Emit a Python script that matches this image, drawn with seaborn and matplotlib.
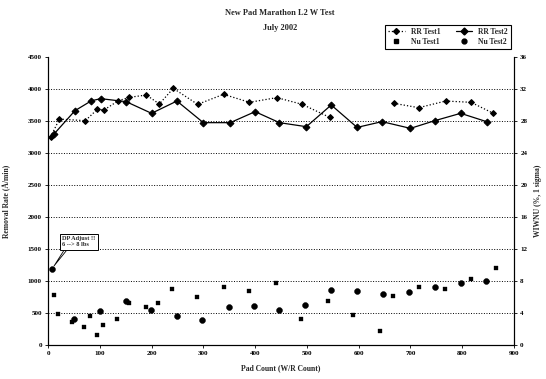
import numpy as np
import pandas as pd
import matplotlib
matplotlib.use("Agg")
import matplotlib.pyplot as plt
from matplotlib.lines import Line2D
import seaborn as sns

# data
rr1_count = [5, 22, 72, 95, 108, 136, 157, 190, 215, 242, 289, 339, 389, 442, 491, 544]
rr1_rate = [3250, 3530, 3505, 3680, 3672, 3817, 3870, 3906, 3766, 4010, 3760, 3917, 3792, 3865, 3760, 3557]
rr1b_count = [668, 716, 768, 817, 860]
rr1b_rate = [3776, 3708, 3812, 3792, 3620]

rr2_count = [12, 52, 84, 102, 151, 200, 249, 300, 352, 400, 447, 499, 547, 597, 645, 700, 747, 797, 847]
rr2_rate = [3300, 3661, 3817, 3849, 3802, 3620, 3812, 3474, 3474, 3646, 3474, 3411, 3750, 3400, 3490, 3385, 3505, 3620, 3490]

nu1_count = [12, 20, 46, 70, 82, 94, 107, 133, 157, 190, 213, 240, 288, 339, 388, 441, 489, 541, 589, 641, 667, 716, 766, 816, 866]
nu1_val = [6.2, 3.9, 2.9, 2.2, 3.6, 1.25, 2.5, 3.2, 5.2, 4.8, 5.2, 7.0, 5.96, 7.3, 6.7, 7.8, 3.3, 5.5, 3.7, 1.8, 6.1, 7.2, 7.0, 8.25, 9.6]

nu2_count = [7, 50, 100, 150, 199, 249, 298, 349, 397, 447, 497, 547, 597, 647, 697, 747, 797, 846]
nu2_val = [9.46, 3.25, 4.25, 5.5, 4.4, 3.6, 3.1, 4.8, 4.9, 4.4, 5.0, 6.9, 6.8, 6.4, 6.6, 7.2, 7.7, 8.0]

x_ticks = list(range(0, 901, 100))
rr_ticks = list(range(0, 4501, 500))
nu_ticks = list(range(0, 37, 4))

sns.set_style("white")
plt.rcParams['font.family'] = ['Liberation Serif', 'DejaVu Serif']
plt.rcParams['font.weight'] = 'bold'

fig, ax = plt.subplots(figsize=(5.46, 3.79), dpi=100)
fig.subplots_adjust(left=48/546, right=514/546, top=1-57/379, bottom=1-345/379)
ax2 = ax.twinx()

sns.lineplot(x=rr1_count, y=rr1_rate, ax=ax, color='black', linestyle=':', linewidth=0.9,
             marker='D', markersize=3, markeredgecolor='black', legend=False)
sns.lineplot(x=rr1b_count, y=rr1b_rate, ax=ax, color='black', linestyle=':', linewidth=0.9,
             marker='D', markersize=3, markeredgecolor='black', legend=False)
sns.lineplot(x=rr2_count, y=rr2_rate, ax=ax, color='black', linestyle='-', linewidth=0.9,
             marker='D', markersize=3.5, markeredgecolor='black', legend=False)

sns.scatterplot(x=nu1_count, y=nu1_val, ax=ax2, color='black', marker='s', s=9,
                edgecolor='black', legend=False)
sns.scatterplot(x=nu2_count, y=nu2_val, ax=ax2, color='black', marker='o', s=18,
                edgecolor='black', legend=False)

ax.set_xlim(0, 900)
ax.set_ylim(0, 4500)
ax2.set_ylim(0, 36)
ax.set_xticks(x_ticks)
ax.set_yticks(rr_ticks)
ax2.set_yticks(nu_ticks)

ax.yaxis.grid(True, linestyle=':', color='black', linewidth=0.7)
ax.get_ygridlines()[-1].set_visible(False)
ax.get_ygridlines()[0].set_visible(False)

for a in (ax, ax2):
    a.spines['top'].set_visible(False)
    for s in ('left', 'right', 'bottom'):
        a.spines[s].set_color('black')
        a.spines[s].set_linewidth(0.8)
    a.tick_params(labelsize=5, length=2.5, width=0.6, colors='black', pad=2)
ax.tick_params(axis='x', direction='out', bottom=True)
ax.tick_params(axis='y', direction='out', left=True)
ax2.tick_params(axis='y', direction='out', right=True)

ax.set_xlabel('Pad Count (W/R Count)', fontsize=5.5, fontweight='bold', labelpad=6)
ax.set_ylabel('Removal Rate (Å/min)', fontsize=5.5, fontweight='bold', labelpad=12)
ax2.set_ylabel('WIWNU (%, 1 sigma)', fontsize=5.5, fontweight='bold', labelpad=5)

fig.text(280/546, 1-13/379, 'New Pad Marathon L2 W Test', ha='center', va='center',
         fontsize=6, fontweight='bold')
fig.text(280/546, 1-28/379, 'July 2002', ha='center', va='center',
         fontsize=6, fontweight='bold')

handles = [
    Line2D([], [], color='black', linestyle=':', linewidth=0.9, marker='D', markersize=3),
    Line2D([], [], color='black', linestyle='none', marker='s', markersize=2.5),
    Line2D([], [], color='black', linestyle='-', linewidth=0.9, marker='D', markersize=3.5),
    Line2D([], [], color='black', linestyle='none', marker='o', markersize=3.5),
]
labels = ['RR Test1', 'Nu Test1', 'RR Test2', 'Nu Test2']
leg = fig.legend(handles, labels, ncol=2, loc='upper right',
                 bbox_to_anchor=(515/546, 1-21/379), fontsize=5.5, frameon=True,
                 fancybox=False, edgecolor='black', framealpha=1, handlelength=2.2,
                 columnspacing=2.0, borderpad=0.4, labelspacing=0.3)
leg.get_frame().set_linewidth(0.8)

ax2.annotate('DP Adjust !!\n6 --> 8 lbs', xy=(nu2_count[0], nu2_val[0]),
             xytext=(28, 12.9), fontsize=4.5, fontweight='bold', va='center',
             bbox=dict(boxstyle='square,pad=0.4', fc='white', ec='black', lw=0.7),
             arrowprops=dict(arrowstyle='wedge,tail_width=0.35', fc='white', ec='black',
                             lw=0.6, relpos=(0.15, 0.0), shrinkA=0, shrinkB=3))

fig.savefig('out.png', dpi=100)
